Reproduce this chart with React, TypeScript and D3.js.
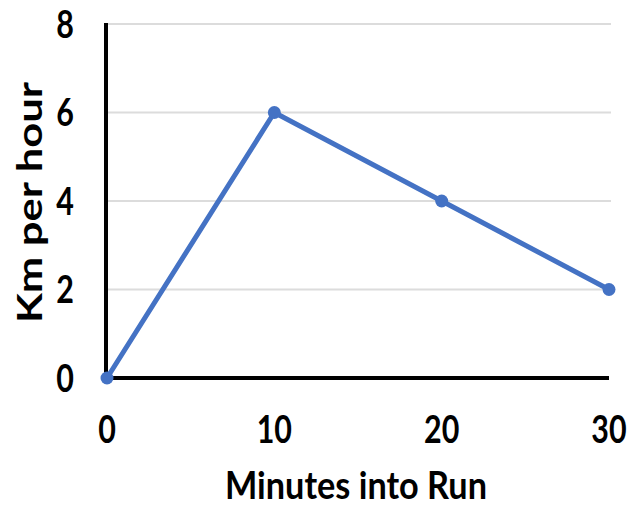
import React from "react";
import * as d3 from "d3";

const minutes = [0, 10, 20, 30];
const speeds = [0, 6, 4, 2];
const xTicks = [0, 10, 20, 30];
const yTicks = [0, 2, 4, 6, 8];
const xTitle = "Minutes into Run";
const yTitle = "Km per hour";

const W = 631;
const H = 508;
const FONT = "Lato, 'Noto Sans', sans-serif";

export default function App() {
  const x = d3.scaleLinear().domain([0, 30]).range([107, 609]);
  const y = d3.scaleLinear().domain([0, 8]).range([378, 24]);
  const pts = minutes.map((m, i) => [m, speeds[i]] as [number, number]);
  const line = d3
    .line<[number, number]>()
    .x((d) => x(d[0]))
    .y((d) => y(d[1]));

  return (
    <svg
      width={W}
      height={H}
      style={{ position: "absolute", left: 0, top: 0, background: "#fff" }}
    >
      {yTicks
        .filter((t) => t !== 0)
        .map((t) => (
          <line
            key={"g" + t}
            x1={107}
            x2={611}
            y1={y(t)}
            y2={y(t)}
            stroke="#dcdcdc"
            strokeWidth={2}
          />
        ))}
      <line x1={106} x2={106} y1={y(8) - 1} y2={y(0)} stroke="#000" strokeWidth={4} />
      <line x1={104} x2={609} y1={y(0)} y2={y(0)} stroke="#000" strokeWidth={4} />
      <path d={line(pts) || ""} fill="none" stroke="#4472C4" strokeWidth={5} strokeLinejoin="round" />
      {pts.map((p, i) => (
        <circle key={"c" + i} cx={x(p[0])} cy={y(p[1])} r={6.5} fill="#4472C4" />
      ))}
      {yTicks.map((t) => (
        <text
          key={"yl" + t}
          transform={`translate(65,${y(t) + 13.5}) scale(0.8,1)`}
          textAnchor="middle"
          fontFamily={FONT}
          fontWeight={700}
          fontSize={38}
          fill="#000"
        >
          {t}
        </text>
      ))}
      {xTicks.map((t) => (
        <text
          key={"xl" + t}
          transform={`translate(${x(t)},443) scale(0.8,1)`}
          textAnchor="middle"
          fontFamily={FONT}
          fontWeight={700}
          fontSize={38}
          fill="#000"
        >
          {t}
        </text>
      ))}
      <text
        x={225}
        y={499}
        textLength={262}
        lengthAdjust="spacingAndGlyphs"
        fontFamily={FONT}
        fontWeight={700}
        fontSize={38}
        fill="#000"
      >
        {xTitle}
      </text>
      <text
        transform={`translate(42,323) rotate(-90)`}
        x={0}
        y={0}
        textLength={241}
        lengthAdjust="spacingAndGlyphs"
        fontFamily={FONT}
        fontWeight={700}
        fontSize={35}
        fill="#000"
      >
        {yTitle}
      </text>
    </svg>
  );
}
